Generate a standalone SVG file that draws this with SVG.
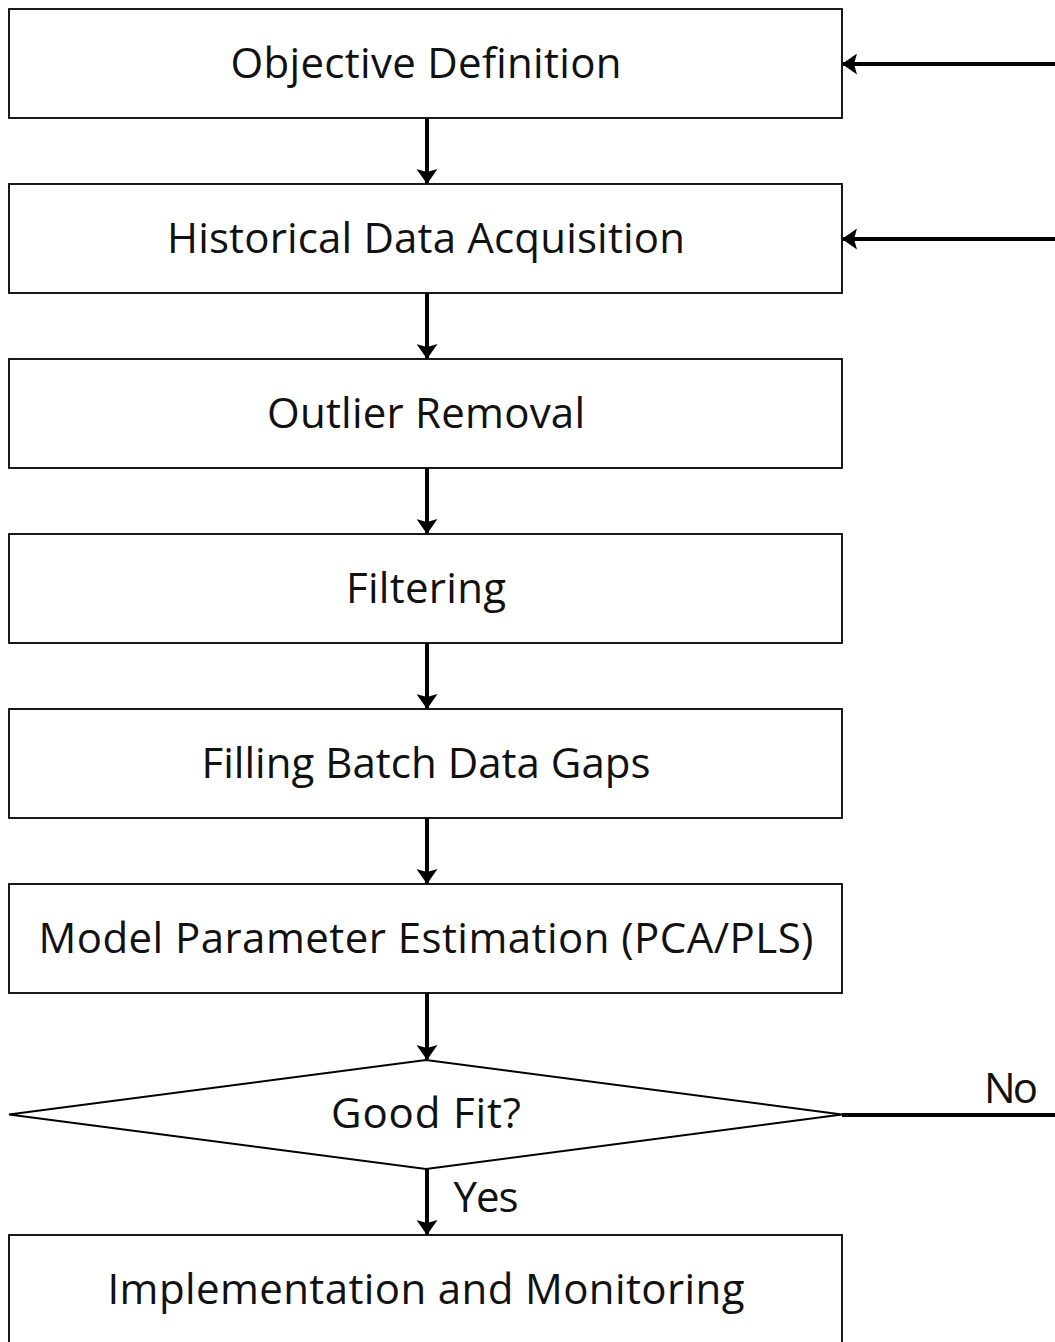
<svg xmlns="http://www.w3.org/2000/svg" width="1055" height="1342" viewBox="0 0 1055 1342">
  <style>
    .box { fill: #ffffff; stroke: #000000; stroke-width: 1.8; }
    .lbl { font-family: "Open Sans", "Liberation Sans", sans-serif; font-size: 42px; fill: #111111; text-anchor: middle; }
    .edge { stroke: #000000; stroke-width: 4; fill: none; }
  </style>
  <defs>
    <marker id="arrow" viewBox="0 0 15 21" refX="14" refY="10.5" markerWidth="15" markerHeight="21" orient="auto" markerUnits="userSpaceOnUse">
      <path d="M0,0 L15,10.5 L0,21 L3,10.5 z" fill="#000000"/>
    </marker>
  </defs>

  <rect width="1055" height="1342" fill="#ffffff"/>

  <g id="connectors">
    <line class="edge" x1="427" y1="118" x2="427" y2="183" marker-end="url(#arrow)"/>
    <line class="edge" x1="427" y1="293" x2="427" y2="358" marker-end="url(#arrow)"/>
    <line class="edge" x1="427" y1="468" x2="427" y2="533" marker-end="url(#arrow)"/>
    <line class="edge" x1="427" y1="643" x2="427" y2="708" marker-end="url(#arrow)"/>
    <line class="edge" x1="427" y1="818" x2="427" y2="883" marker-end="url(#arrow)"/>
    <line class="edge" x1="427" y1="993" x2="427" y2="1059" marker-end="url(#arrow)"/>
    <line class="edge" x1="427" y1="1169" x2="427" y2="1234" marker-end="url(#arrow)"/>
    <line class="edge" x1="1060" y1="64" x2="843" y2="64" marker-end="url(#arrow)"/>
    <line class="edge" x1="1060" y1="239" x2="843" y2="239" marker-end="url(#arrow)"/>
    <line class="edge" x1="842" y1="1115" x2="1060" y2="1115"/>
    <text class="lbl" x="486" y="1212" textLength="65">Yes</text>
    <text class="lbl" x="1011" y="1103" textLength="54">No</text>
  </g>

  <g id="objective-definition">
    <rect class="box" x="9" y="9" width="833" height="109"/>
    <text class="lbl" x="426" y="78" textLength="391">Objective Definition</text>
  </g>
  <g id="historical-data-acquisition">
    <rect class="box" x="9" y="184" width="833" height="109"/>
    <text class="lbl" x="426" y="253" textLength="518">Historical Data Acquisition</text>
  </g>
  <g id="outlier-removal">
    <rect class="box" x="9" y="359" width="833" height="109"/>
    <text class="lbl" x="426" y="428" textLength="318">Outlier Removal</text>
  </g>
  <g id="filtering">
    <rect class="box" x="9" y="534" width="833" height="109"/>
    <text class="lbl" x="426" y="603" textLength="160">Filtering</text>
  </g>
  <g id="filling-gaps">
    <rect class="box" x="9" y="709" width="833" height="109"/>
    <text class="lbl" x="426" y="778" textLength="449">Filling Batch Data Gaps</text>
  </g>
  <g id="model-estimation">
    <rect class="box" x="9" y="884" width="833" height="109"/>
    <text class="lbl" x="426" y="953" textLength="775">Model Parameter Estimation (PCA/PLS)</text>
  </g>
  <g id="good-fit">
    <polygon class="box" points="426,1060 842,1114.5 426,1169 9,1114.5"/>
    <text class="lbl" x="426" y="1128" textLength="190">Good Fit?</text>
  </g>
  <g id="implementation">
    <rect class="box" x="9" y="1235" width="833" height="112"/>
    <text class="lbl" x="426" y="1304" textLength="637">Implementation and Monitoring</text>
  </g>
</svg>
